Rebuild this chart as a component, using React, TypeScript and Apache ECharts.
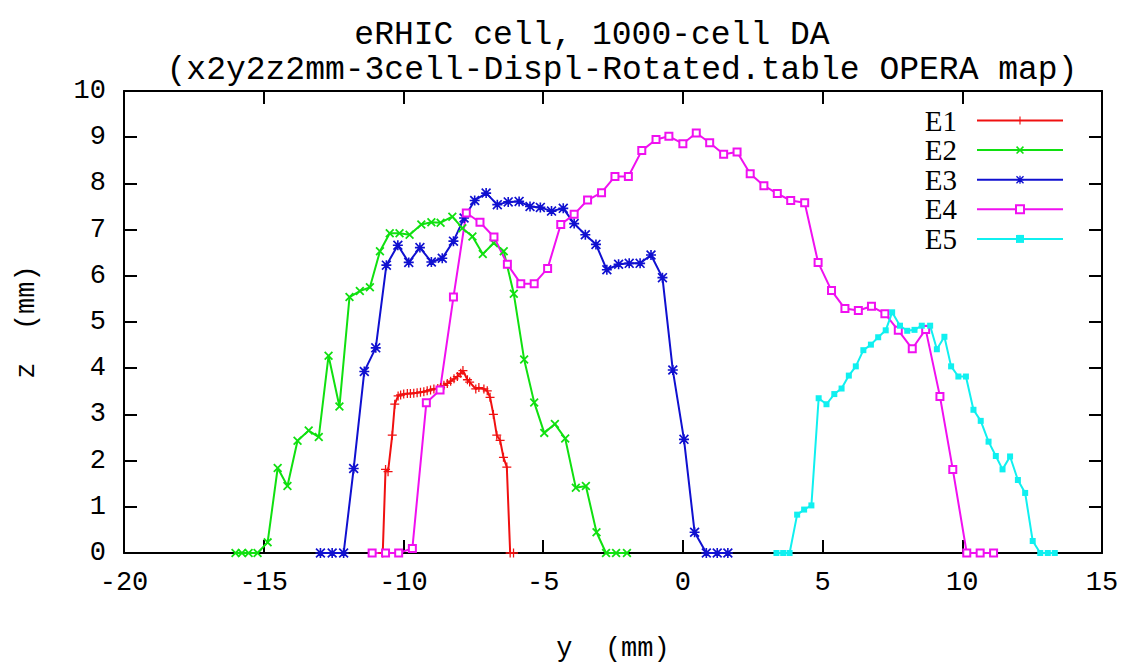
import React, { useEffect, useRef } from "react";
import * as echarts from "echarts";

const titleLine1 = "eRHIC cell, 1000-cell DA";
const titleLine2 = "(x2y2z2mm-3cell-Displ-Rotated.table OPERA map)";
const seriesNames = ["E1", "E2", "E3", "E4", "E5"];
const seriesColors = ["#f01010", "#10e010", "#1010d0", "#f010f0", "#10f0f0"];

const e1: number[][] = [
  [-10.74, 0], [-10.64, 1.81], [-10.55, 1.76], [-10.4, 2.55], [-10.31, 3.22],
  [-10.19, 3.4], [-10.1, 3.42], [-9.99, 3.44], [-9.86, 3.45], [-9.75, 3.45],
  [-9.63, 3.46], [-9.51, 3.47], [-9.39, 3.48], [-9.27, 3.49], [-9.15, 3.51],
  [-9.03, 3.53], [-8.91, 3.55], [-8.77, 3.56], [-8.67, 3.58], [-8.55, 3.63],
  [-8.43, 3.67], [-8.31, 3.72], [-8.19, 3.77], [-8.07, 3.82], [-7.95, 3.89],
  [-7.87, 3.95], [-7.71, 3.75], [-7.63, 3.7], [-7.41, 3.55], [-7.3, 3.58],
  [-7.12, 3.55], [-7.0, 3.51], [-6.9, 3.37], [-6.78, 3.0], [-6.66, 2.55],
  [-6.54, 2.44], [-6.42, 2.07], [-6.3, 1.86], [-6.18, 0], [-6.06, 0],
];

const e2: number[][] = [
  [-16.01, 0], [-15.78, 0], [-15.54, 0], [-15.22, 0], [-14.86, 0.23],
  [-14.5, 1.84], [-14.15, 1.45], [-13.79, 2.43], [-13.39, 2.65], [-13.03, 2.51],
  [-12.68, 4.27], [-12.29, 3.17], [-11.93, 5.54], [-11.56, 5.67], [-11.2, 5.75],
  [-10.84, 6.53], [-10.49, 6.92], [-10.14, 6.92], [-9.78, 6.89], [-9.36, 7.11],
  [-9.0, 7.16], [-8.67, 7.15], [-8.25, 7.28], [-7.89, 7.03], [-7.53, 6.85],
  [-7.16, 6.47], [-6.77, 6.71], [-6.41, 6.53], [-6.05, 5.61], [-5.68, 4.19],
  [-5.32, 3.26], [-4.96, 2.6], [-4.58, 2.79], [-4.21, 2.48], [-3.83, 1.41],
  [-3.47, 1.45], [-3.09, 0.45], [-2.75, 0], [-2.39, 0], [-2.0, 0],
];

const e3: number[][] = [
  [-12.97, 0], [-12.55, 0], [-12.14, 0], [-11.78, 1.83], [-11.4, 3.93],
  [-10.99, 4.44], [-10.61, 6.23], [-10.2, 6.66], [-9.81, 6.29], [-9.41, 6.61],
  [-9.0, 6.3], [-8.61, 6.38], [-8.21, 6.75], [-7.83, 7.25], [-7.45, 7.63],
  [-7.04, 7.79], [-6.64, 7.54], [-6.25, 7.6], [-5.86, 7.61], [-5.47, 7.5],
  [-5.1, 7.48], [-4.7, 7.4], [-4.28, 7.46], [-3.89, 7.13], [-3.49, 6.89],
  [-3.11, 6.68], [-2.72, 6.13], [-2.3, 6.25], [-1.92, 6.27], [-1.53, 6.27],
  [-1.14, 6.45], [-0.73, 5.96], [-0.36, 3.96], [0.04, 2.46], [0.42, 0.45],
  [0.84, 0], [1.23, 0], [1.61, 0],
];

const e4: number[][] = [
  [-11.12, 0], [-10.64, 0], [-10.17, 0], [-9.68, 0.1], [-9.18, 3.25],
  [-8.69, 3.53], [-8.21, 5.54], [-7.75, 7.36], [-7.26, 7.16], [-6.76, 6.84],
  [-6.28, 6.25], [-5.8, 5.83], [-5.32, 5.83], [-4.84, 6.16], [-4.37, 7.11],
  [-3.89, 7.33], [-3.41, 7.64], [-2.91, 7.8], [-2.43, 8.15], [-1.95, 8.15],
  [-1.47, 8.71], [-0.96, 8.95], [-0.5, 9.02], [0.0, 8.86], [0.48, 9.09],
  [0.96, 8.88], [1.46, 8.63], [1.94, 8.68], [2.41, 8.21], [2.9, 7.95],
  [3.38, 7.78], [3.86, 7.63], [4.36, 7.58], [4.84, 6.29], [5.32, 5.68],
  [5.8, 5.29], [6.28, 5.25], [6.75, 5.34], [7.23, 5.18], [7.71, 4.82],
  [8.21, 4.42], [8.69, 4.84], [9.2, 3.39], [9.66, 1.81], [10.16, 0],
  [10.64, 0], [11.12, 0],
];

const e5: number[][] = [
  [3.35, 0], [3.59, 0], [3.82, 0], [4.09, 0.83], [4.34, 0.94],
  [4.6, 1.03], [4.86, 3.35], [5.14, 3.22], [5.42, 3.44], [5.68, 3.56],
  [5.94, 3.84], [6.19, 4.04], [6.46, 4.39], [6.73, 4.51], [6.99, 4.67],
  [7.26, 4.82], [7.49, 5.21], [7.77, 4.92], [8.03, 4.81], [8.29, 4.83],
  [8.55, 4.92], [8.85, 4.92], [9.09, 4.41], [9.36, 4.68], [9.6, 4.04],
  [9.86, 3.82], [10.13, 3.82], [10.4, 3.1], [10.66, 2.86], [10.94, 2.41],
  [11.2, 2.1], [11.44, 1.81], [11.71, 2.09], [11.99, 1.58], [12.25, 1.3],
  [12.52, 0.26], [12.79, 0], [13.06, 0], [13.31, 0],
];

const xMin = -20;
const xMax = 15;
const xStep = 5;
const yMin = 0;
const yMax = 10;
const yStep = 1;

const PLUS = "path://M4.3,0H5.7V4.3H10V5.7H5.7V10H4.3V5.7H0V4.3H4.3Z";
const CROSS = "path://M0,1.4L1.4,0L5,3.6L8.6,0L10,1.4L6.4,5L10,8.6L8.6,10L5,6.4L1.4,10L0,8.6L3.6,5Z";
const STAR =
  "path://M4.2,0H5.8V4.2H10V5.8H5.8V10H4.2V5.8H0V4.2H4.2Z M0,1.2L1.2,0L5,3.8L8.8,0L10,1.2L6.2,5L10,8.8L8.8,10L5,6.2L1.2,10L0,8.8L3.8,5Z";

export default function App() {
  const ref = useRef<HTMLDivElement>(null);
  useEffect(() => {
    document.body.style.margin = "0";
    if (!ref.current) return;
    const chart = echarts.init(ref.current, undefined, { renderer: "svg" });
    const mono = "Liberation Mono";
    const axisCommon = {
      type: "value" as const,
      axisLine: { show: true, onZero: false, lineStyle: { color: "#000", width: 2 } },
      axisTick: { show: true, inside: true, length: 13, lineStyle: { color: "#000", width: 2 } },
      splitLine: { show: false },
    };
    const datasets = [e1, e2, e3, e4, e5];
    const symbols = [PLUS, CROSS, STAR, "emptyRect", "rect"];
    const sizes = [9, 9, 10, 7, 6];
    chart.setOption({
      animation: false,
      backgroundColor: "#fff",
      graphic: [
        {
          type: "text",
          x: 622,
          y: 53,
          style: {
            text: `{a|${titleLine1}}\n{b|${titleLine2}}`,
            fill: "#000",
            align: "center",
            verticalAlign: "middle",
            rich: {
              a: {
                fontFamily: mono,
                fontSize: 33,
                lineHeight: 35,
                color: "#000",
                padding: [0, 60, 0, 0],
              },
              b: {
                fontFamily: mono,
                fontSize: 33,
                lineHeight: 35,
                color: "#000",
              },
            },
          },
        },
      ],
      legend: {
        orient: "vertical",
        right: 59,
        top: 101,
        align: "right",
        itemWidth: 86,
        itemHeight: 10,
        itemGap: 0.6,
        padding: 5,
        data: seriesNames,
        formatter: (name: string) => `{t|${name}}{s|}`,
        textStyle: {
          fontFamily: "Liberation Serif",
          fontSize: 29,
          color: "#000",
          rich: {
            t: { fontFamily: "Liberation Serif", fontSize: 29, color: "#000" },
            s: { width: 15 },
          },
        },
      },
      grid: { left: 124, right: 26, top: 91, bottom: 92 },
      xAxis: [
        {
          ...axisCommon,
          min: xMin,
          max: xMax,
          interval: xStep,
          position: "bottom",
          name: "y\u00a0\u00a0(mm)",
          nameLocation: "middle",
          nameGap: 82,
          nameTextStyle: { fontFamily: mono, fontSize: 27, color: "#000" },
          axisLabel: { fontFamily: mono, fontSize: 27, color: "#000", margin: 16 },
        },
        {
          ...axisCommon,
          min: xMin,
          max: xMax,
          interval: xStep,
          position: "top",
          axisLabel: { show: false },
        },
      ],
      yAxis: [
        {
          ...axisCommon,
          min: yMin,
          max: yMax,
          interval: yStep,
          position: "left",
          name: "z\u00a0\u00a0(mm)",
          nameLocation: "middle",
          nameGap: 84,
          nameTextStyle: { fontFamily: mono, fontSize: 27, color: "#000" },
          axisLabel: { fontFamily: mono, fontSize: 27, color: "#000", margin: 18 },
        },
        {
          ...axisCommon,
          min: yMin,
          max: yMax,
          interval: yStep,
          position: "right",
          axisLabel: { show: false },
        },
      ],
      series: datasets.map((d, i) => ({
        name: seriesNames[i],
        type: "line",
        xAxisIndex: 0,
        yAxisIndex: 0,
        data: d,
        symbol: symbols[i],
        symbolSize: sizes[i],
        showSymbol: true,
        color: seriesColors[i],
        lineStyle: { color: seriesColors[i], width: 2 },
        itemStyle: { color: seriesColors[i], borderColor: seriesColors[i], borderWidth: i === 3 ? 2 : 0 },
        emphasis: { disabled: true },
      })),
    });
    return () => chart.dispose();
  }, []);
  return <div ref={ref} style={{ width: 1128, height: 667 }} />;
}
